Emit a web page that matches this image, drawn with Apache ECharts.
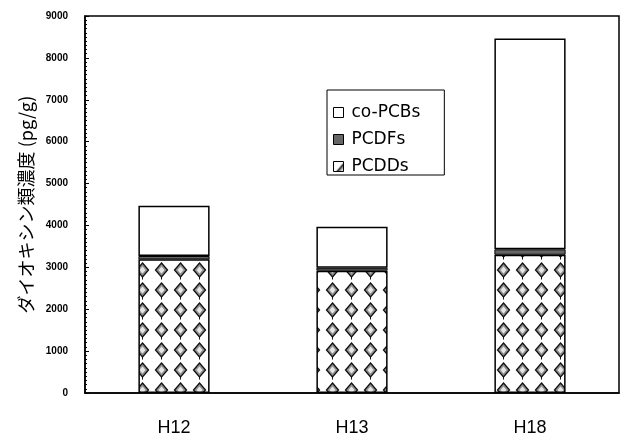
<!DOCTYPE html>
<html><head><meta charset="utf-8">
<script src="https://cdn.jsdelivr.net/npm/echarts@6/dist/echarts.min.js"></script>
<style>html,body{margin:0;padding:0;background:#fff}#c{width:620px;height:437px}</style>
</head><body><div id="c"></div>
<script>
const categories = ['H12', 'H13', 'H18'];
const pcdds = [3190, 2920, 3300];
const pcdfs = [80, 70, 130];
const coPcbs = [1200, 980, 5030];
const yMin = 0, yMax = 9000, yInterval = 1000;

function makePattern() {
  const c = document.createElement('canvas');
  c.width = 19; c.height = 20;
  const g = c.getContext('2d');
  g.fillStyle = '#fff'; g.fillRect(0, 0, 19, 20);
  g.beginPath(); g.moveTo(9.5, 3); g.lineTo(15.5, 10); g.lineTo(9.5, 17); g.lineTo(3.5, 10); g.closePath();
  g.fillStyle = '#8f8f8f'; g.fill();
  g.lineWidth = 1.3; g.strokeStyle = '#111'; g.stroke();
  g.beginPath(); g.moveTo(9.5, 6.5); g.lineTo(12.5, 10); g.lineTo(9.5, 13.5); g.lineTo(6.5, 10); g.closePath();
  g.fillStyle = '#e6e6e6'; g.fill();
  g.beginPath(); g.moveTo(9.5, 17); g.lineTo(9.5, 19.5); g.lineWidth = 1; g.stroke();
  return c;
}
const pattern = { image: makePattern(), repeat: 'repeat' };

const chart = echarts.init(document.getElementById('c'));
const barBase = { type: 'bar', stack: 'total', barWidth: '40%' };
chart.setOption({
  animation: false,
  backgroundColor: '#fff',
  grid: { left: 85, right: 1, top: 16, bottom: 41, show: true, borderColor: '#000', borderWidth: 1.5, backgroundColor: 'transparent' },
  legend: {
    data: ['co-PCBs', 'PCDFs', 'PCDDs'],
    orient: 'vertical', left: 327, top: 90,
    icon: 'rect', itemWidth: 10, itemHeight: 10, itemGap: 10,
    padding: [14, 24, 0, 6],
    borderColor: '#000', borderWidth: 1, backgroundColor: '#fff',
    itemStyle: { borderColor: '#000', borderWidth: 1 },
    textStyle: { fontSize: 17, fontFamily: 'DejaVu Sans', color: '#000', padding: [0, 0, 0, 3] }
  },
  xAxis: {
    type: 'category', data: categories,
    axisLine: { lineStyle: { color: '#000', width: 1.5 } },
    axisTick: { inside: true, length: 6, lineStyle: { color: '#000', width: 1.5 } },
    axisLabel: { color: '#000', fontSize: 18, fontFamily: 'Liberation Sans', margin: 26 }
  },
  yAxis: {
    type: 'value', min: yMin, max: yMax, interval: yInterval,
    name: 'ダイオキシン類濃度 (pg/g)', nameLocation: 'middle', nameGap: 43,
    nameTextStyle: { fontSize: 18, fontFamily: 'Noto Sans CJK JP', color: '#000' },
    axisLine: { show: true, lineStyle: { color: '#000', width: 1.5 } },
    axisTick: { show: true, inside: true, length: 4, lineStyle: { color: '#000' } },
    minorTick: { show: true, splitNumber: 10, length: 2, lineStyle: { color: '#000' } },
    splitLine: { show: false },
    axisLabel: { color: '#000', fontSize: 10, fontWeight: 'bold', fontFamily: 'Liberation Sans', margin: 17, formatter: v => String(v) }
  },
  series: [
    Object.assign({}, barBase, { name: 'PCDDs', data: pcdds, itemStyle: { color: pattern, borderColor: '#000', borderWidth: 1.5 } }),
    Object.assign({}, barBase, { name: 'PCDFs', data: pcdfs, itemStyle: { color: '#666', borderColor: '#000', borderWidth: 1 } }),
    Object.assign({}, barBase, { name: 'co-PCBs', data: coPcbs, itemStyle: { color: '#fff', borderColor: '#000', borderWidth: 1.5 } })
  ]
});
</script></body></html>
